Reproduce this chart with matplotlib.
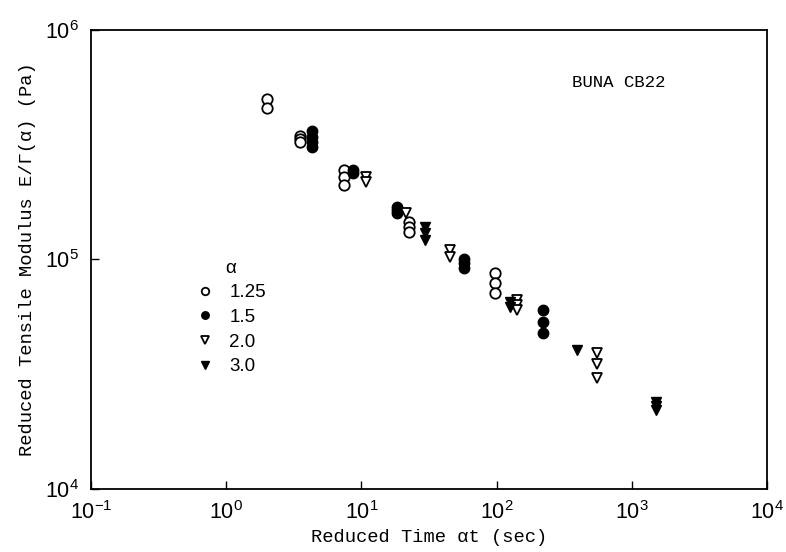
import numpy as np
import matplotlib.pyplot as plt
from matplotlib.lines import Line2D

# Reduced time (s) and reduced tensile modulus (Pa) for each stretch ratio alpha
t_125 = [2.0, 2.0, 3.5, 3.5, 3.5, 7.4, 7.4, 7.4, 22.5, 22.5, 22.5, 97, 97, 97]
E_125 = [5.0e5, 4.55e5, 3.45e5, 3.35e5, 3.25e5, 2.45e5, 2.29e5, 2.11e5,
         1.46e5, 1.39e5, 1.32e5, 8.7e4, 7.9e4, 7.15e4]

t_15 = [4.3, 4.3, 4.3, 4.3, 8.7, 8.7, 18.3, 18.3, 18.3, 57, 57, 57, 220, 220, 220]
E_15 = [3.62e5, 3.42e5, 3.25e5, 3.1e5, 2.45e5, 2.38e5, 1.69e5, 1.64e5, 1.59e5,
        1.01e5, 9.7e4, 9.2e4, 6.0e4, 5.35e4, 4.8e4]

t_20 = [10.8, 10.8, 21.4, 45, 45, 142, 142, 142, 553, 553, 553]
E_20 = [2.29e5, 2.18e5, 1.59e5, 1.10e5, 1.03e5, 6.65e4, 6.35e4, 6.05e4,
        3.9e4, 3.5e4, 3.05e4]

t_30 = [29.5, 29.5, 29.5, 126, 126, 393, 1510, 1510, 1510]
E_30 = [1.39e5, 1.30e5, 1.22e5, 6.55e4, 6.2e4, 4.05e4, 2.4e4, 2.3e4, 2.2e4]

alpha_labels = ["1.25", "1.5", "2.0", "3.0"]

plt.rcParams["font.family"] = ["Liberation Sans", "DejaVu Sans"]
mono = ["Liberation Mono", "DejaVu Sans Mono"]

fig = plt.figure(figsize=(7.86, 5.52), dpi=100)
ax = fig.add_axes([0.1158, 0.1141, 0.86, 0.8316])

ms = 7.5
styles = [
    dict(marker="o", mfc="white", mec="black", mew=1.3),
    dict(marker="o", mfc="black", mec="black", mew=1.0),
    dict(marker="v", mfc="white", mec="black", mew=1.3),
    dict(marker="v", mfc="black", mec="black", mew=1.0),
]
series = [(t_125, E_125), (t_15, E_15), (t_20, E_20), (t_30, E_30)]
for (t, E), st in zip(series, styles):
    ax.plot(t, E, ls="none", ms=ms, **st)

ax.set_xscale("log")
ax.set_yscale("log")
ax.set_xlim(1e-1, 1e4)
ax.set_ylim(1e4, 1e6)
ax.minorticks_off()
ax.tick_params(which="major", direction="in", length=6, width=1,
               labelsize=15.5, top=False, right=False)
ax.tick_params(axis="x", pad=9)
ax.tick_params(axis="y", pad=9)
for sp in ax.spines.values():
    sp.set_linewidth(1.3)

ax.set_xlabel("Reduced Time αt (sec)", family=mono, fontsize=13.5, labelpad=3)
ax.set_ylabel("Reduced Tensile Modulus E/Γ(α) (Pa)", family=mono,
              fontsize=13.5, labelpad=6)

ax.text(0.780, 0.885, "BUNA CB22", transform=ax.transAxes, family=mono,
        fontsize=12.5, ha="center", va="center")

handles = [Line2D([], [], ls="none", ms=ms * 0.72, **st) for st in styles]
leg = ax.legend(handles, alpha_labels, title="α", loc="upper left",
                bbox_to_anchor=(0.135, 0.528), frameon=False, fontsize=13.5,
                title_fontsize=13.5, handlelength=1.0, handletextpad=0.8,
                labelspacing=0.4, borderpad=0.2)

fig.savefig("out.png", dpi=100)
